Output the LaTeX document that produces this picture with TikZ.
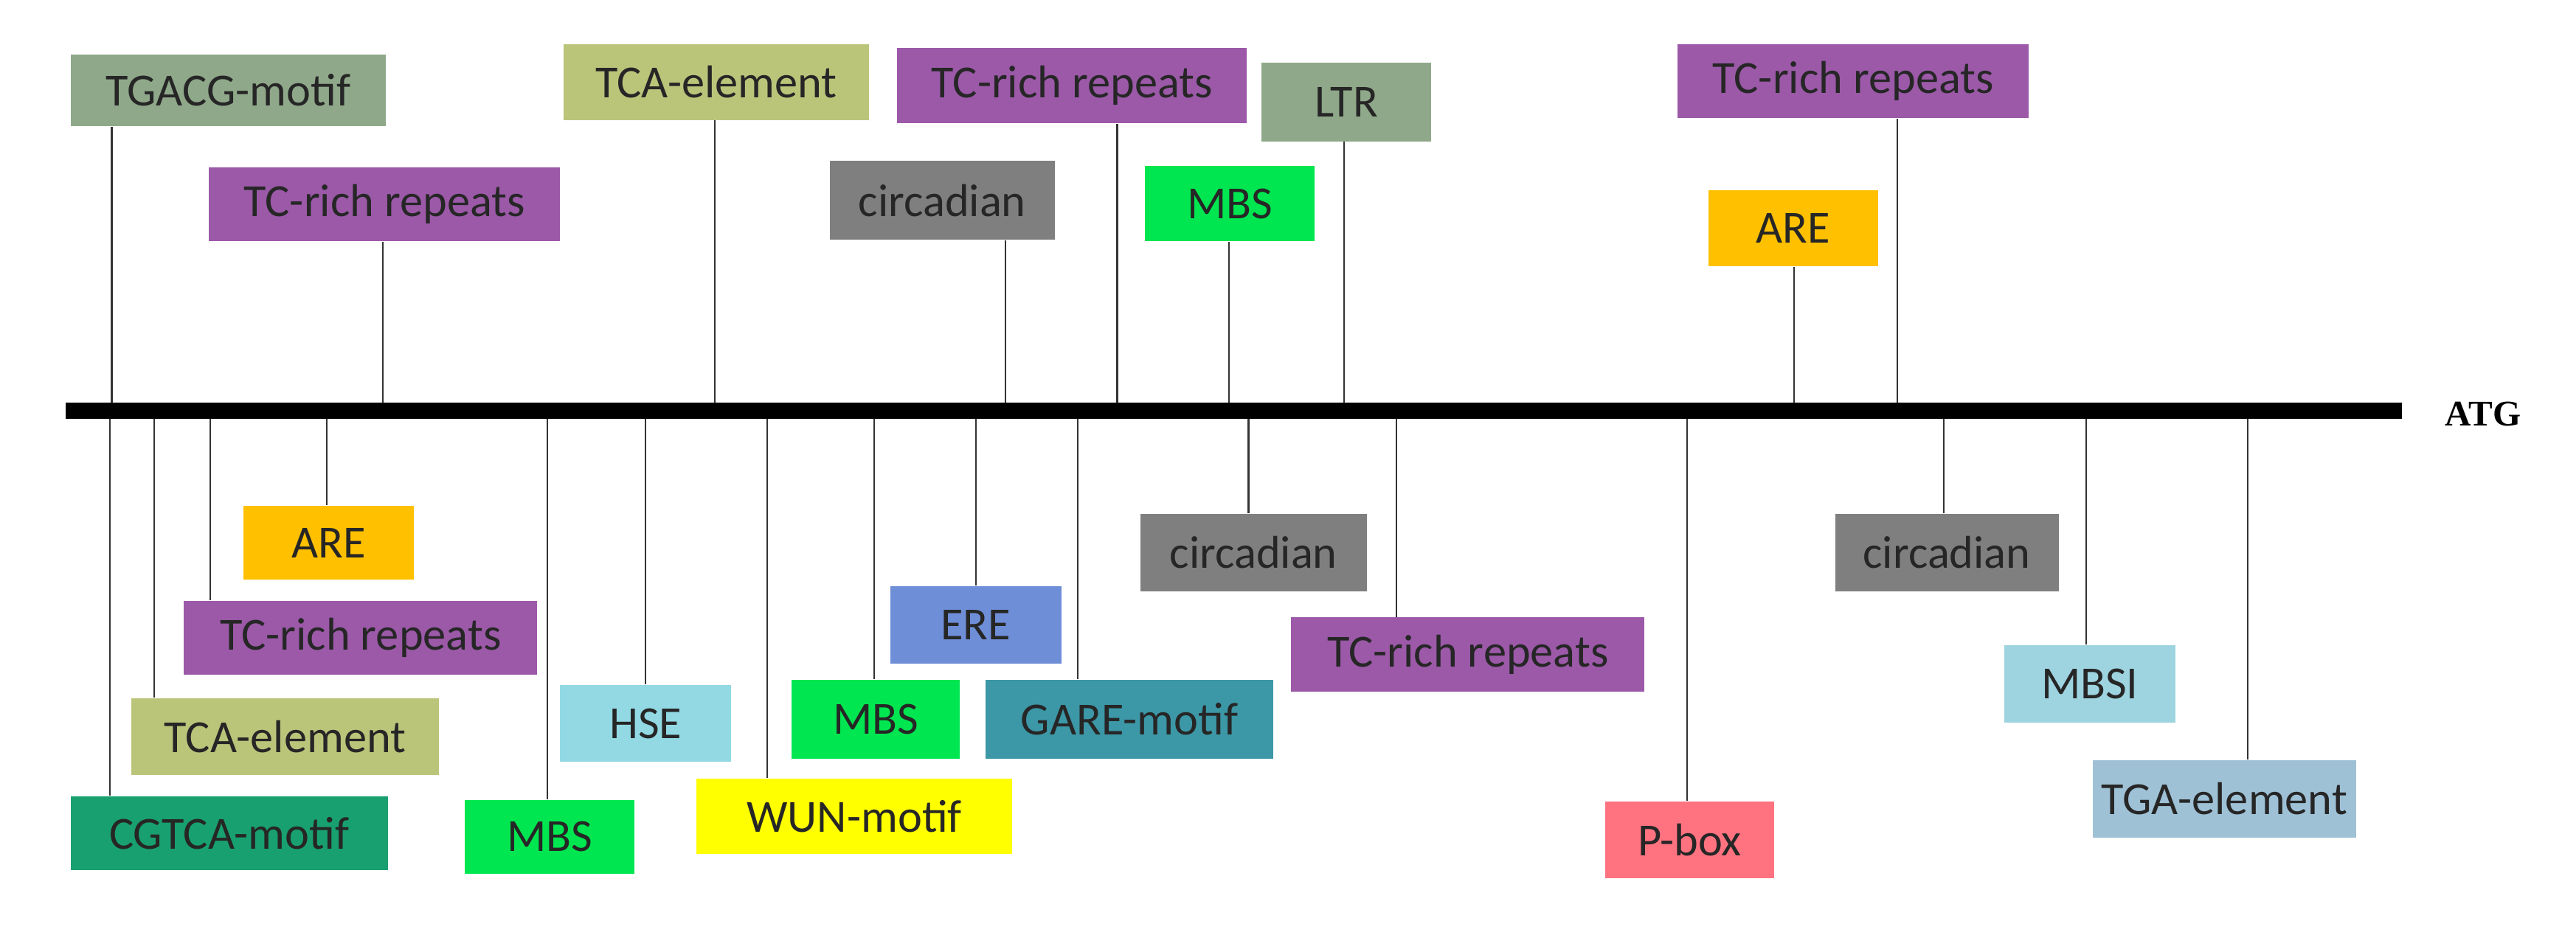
\documentclass[tikz,border=0pt]{standalone}
\usepackage{fontspec}
\setmainfont{Carlito}
\newfontfamily\atgfont{Liberation Serif}
\begin{document}
\begin{tikzpicture}[x=0.5pt,y=-0.5pt,
 ce/.style={inner sep=0pt,text=black!85,font=\fontsize{14}{16}\selectfont},
 stem/.style={line width=0.5pt,black!80}]
\useasboundingbox[fill=white] (0,0) rectangle (1568,569);
\definecolor{cgg}{HTML}{8FA88A}
\definecolor{cpur}{HTML}{9B59A8}
\definecolor{colv}{HTML}{BBC57A}
\definecolor{cgray}{HTML}{7F7F7F}
\definecolor{cgrn}{HTML}{00E650}
\definecolor{corg}{HTML}{FFC000}
\definecolor{cteal}{HTML}{18A070}
\definecolor{chse}{HTML}{92D9E4}
\definecolor{cyel}{HTML}{FFFF00}
\definecolor{cere}{HTML}{6E8ED8}
\definecolor{cgare}{HTML}{3C97A6}
\definecolor{cpink}{HTML}{FF7380}
\definecolor{cmbsi}{HTML}{9ED3E0}
\definecolor{ctga}{HTML}{9EC1D6}
\newcommand\cebox[9]{%
 \node[ce,fill=#6,minimum width=#4*0.5pt,minimum height=#5*0.5pt] (#1) at (#2,#3) {#7};
 \coordinate (#1a) at (#8,250);
 \draw[stem] (#1a) -- (#1a |- #1.#9);}
% top
\cebox{t1}{139}{55}{192}{44}{cgg}{TGACG-motif}{68}{south}
\cebox{t2}{234}{124.5}{214}{45}{cpur}{TC-rich repeats}{233}{south}
\cebox{t3}{436}{50}{186}{46}{colv}{TCA-element}{435}{south}
\cebox{t4}{573.5}{122}{137}{48}{cgray}{circadian}{612}{south}
\cebox{t5}{652.5}{52}{213}{46}{cpur}{TC-rich repeats}{680}{south}
\cebox{t6}{748.5}{124}{103}{46}{cgrn}{MBS}{748}{south}
\cebox{t7}{819.5}{62}{103}{48}{cgg}{LTR}{818}{south}
\cebox{t8}{1128}{49.5}{214}{45}{cpur}{TC-rich repeats}{1155}{south}
\cebox{t9}{1091.5}{139}{103}{46}{corg}{ARE}{1092}{south}
% bottom
\cebox{b1}{200}{330.5}{104}{45}{corg}{ARE}{199}{north}
\cebox{b2}{219.5}{388.5}{215}{45}{cpur}{TC-rich repeats}{128}{north}
\cebox{b3}{173.5}{448.5}{187}{47}{colv}{TCA-element}{94}{north}
\cebox{b4}{139.5}{507.5}{193}{45}{cteal}{CGTCA-motif}{67}{north}
\cebox{b5}{334.5}{509.5}{103}{45}{cgrn}{MBS}{333}{north}
\cebox{b6}{393}{440.5}{104}{47}{chse}{HSE}{393}{north}
\cebox{b7}{520}{497}{192}{46}{cyel}{WUN-motif}{467}{north}
\cebox{b8}{533}{438}{102}{48}{cgrn}{MBS}{532}{north}
\cebox{b9}{594}{380.5}{104}{47}{cere}{ERE}{594}{north}
\cebox{b10}{687.5}{438}{175}{48}{cgare}{GARE-motif}{656}{north}
\cebox{b11}{763}{336.5}{138}{47}{cgray}{circadian}{760}{north}
\cebox{b12}{893.5}{398.5}{215}{45}{cpur}{TC-rich repeats}{850}{north}
\cebox{b13}{1028.5}{511.5}{103}{47}{cpink}{P-box}{1027}{north}
\cebox{b14}{1185}{336.5}{136}{47}{cgray}{circadian}{1183}{north}
\cebox{b15}{1272}{416.5}{104}{47}{cmbsi}{MBSI}{1270}{north}
\cebox{b16}{1354}{486.5}{160}{47}{ctga}{TGA-element}{1368}{north}
% axis
\coordinate (axs) at (40,250);
\coordinate (axe) at (1462,250);
\draw[line width=5pt] (axs) -- (axe);
\node[anchor=west,font=\atgfont\bfseries\fontsize{11}{13}\selectfont,inner sep=0pt] (atg) at (1488,252) {ATG};
\end{tikzpicture}
\end{document}
